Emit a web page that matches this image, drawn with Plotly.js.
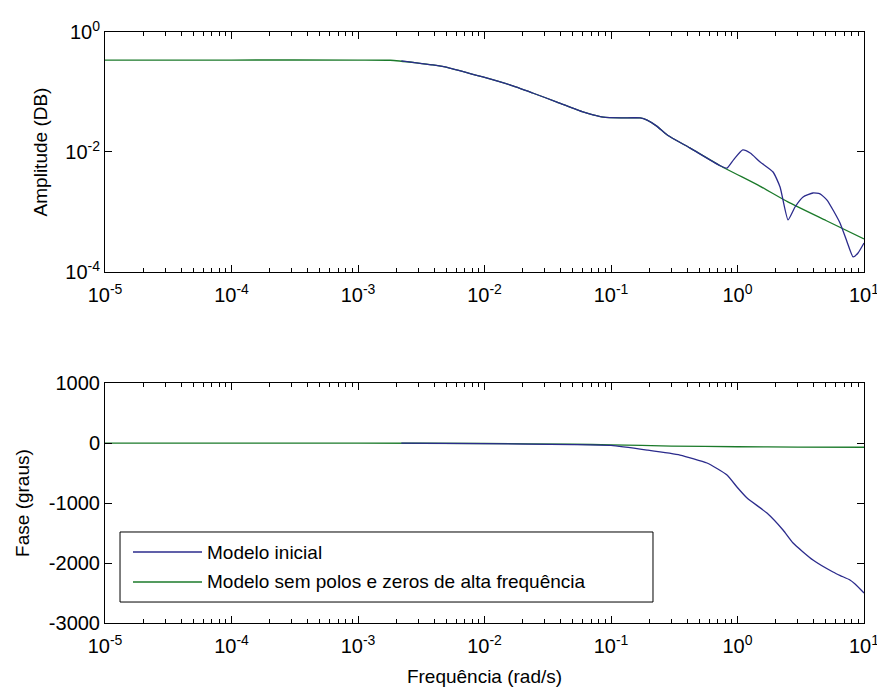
<!DOCTYPE html>
<html>
<head>
<meta charset="utf-8">
<script src="https://cdn.plot.ly/plotly-3.0.1.min.js"></script>
<style>
  html, body { margin: 0; padding: 0; background: #ffffff; }
  #grafico { width: 877px; height: 691px; }
</style>
</head>
<body>
<div id="grafico"></div>
<script>
// Diagrama de Bode: modelo inicial vs. modelo sem polos e zeros de alta frequência

const nomeInicial = 'Modelo inicial';
const nomeReduzido = 'Modelo sem polos e zeros de alta frequência';

// Amplitude do modelo reduzido
const freqAmpReduzido = [1e-5, 1e-4, 1e-3, 1.8e-3, 2.9e-3, 3.9e-3, 5.3e-3, 9.7e-3, 0.0159, 0.024, 0.0374, 0.06, 0.0721, 0.087, 0.12, 0.17, 0.193, 0.23, 0.28, 0.42, 0.73, 1.5, 2.5, 5, 10];
const ampReduzido     = [0.341, 0.341, 0.341, 0.338, 0.305, 0.282, 0.251, 0.178, 0.131, 0.0962, 0.068, 0.0464, 0.0414, 0.038, 0.037, 0.037, 0.034, 0.027, 0.019, 0.0117, 0.0059, 0.0027, 0.00147, 7.2e-4, 3.55e-4];

// Amplitude do modelo inicial
const freqAmpInicial = [2.2e-3, 2.9e-3, 3.9e-3, 5.3e-3, 9.7e-3, 0.0159, 0.024, 0.0374, 0.06, 0.0721, 0.087, 0.12, 0.17, 0.193, 0.23, 0.28, 0.42, 0.73, 0.826, 0.93, 1.10, 1.26, 1.51, 1.91, 2.17, 2.51, 2.85, 3.30, 3.95, 4.49, 5.1, 6.46, 7.35, 8.2, 8.97, 10];
const ampInicial     = [0.33, 0.305, 0.282, 0.251, 0.178, 0.131, 0.0962, 0.068, 0.0464, 0.0414, 0.038, 0.037, 0.037, 0.034, 0.027, 0.019, 0.0117, 0.0059, 0.0054, 0.0074, 0.0108, 0.0096, 0.0068, 0.00464, 0.00261, 7.4e-4, 1.21e-3, 1.78e-3, 2.07e-3, 2.0e-3, 1.58e-3, 6.56e-4, 3.16e-4, 1.78e-4, 2.07e-4, 3.04e-4];

// Fase do modelo reduzido (graus)
const freqFaseReduzido = [1e-5, 1e-4, 1e-3, 0.01, 0.05, 0.1, 0.3, 1, 3, 10];
const faseReduzido     = [0, 0, 0, -8, -20, -30, -50, -62, -68, -70];

// Fase do modelo inicial (graus)
const freqFaseInicial = [2.2e-3, 0.01, 0.05, 0.1, 0.193, 0.351, 0.574, 0.826, 0.99, 1.19, 1.71, 2.29, 2.75, 3.95, 5.69, 6.5, 7.74, 8.5, 10];
const faseInicial     = [0, -10, -25, -40, -117, -200, -333, -533, -733, -917, -1167, -1450, -1667, -1950, -2150, -2210, -2283, -2350, -2500];

// Rótulos dos eixos
const decadasX = [1e-5, 1e-4, 1e-3, 1e-2, 1e-1, 1e0, 1e1];
const rotulosX = ['10<sup>-5</sup>', '10<sup>-4</sup>', '10<sup>-3</sup>', '10<sup>-2</sup>', '10<sup>-1</sup>', '10<sup>0</sup>', '10<sup>1</sup>'];
const decadasAmp = [1e-4, 1e-2, 1e0];
const rotulosAmp = ['10<sup>-4</sup>', '10<sup>-2</sup>', '10<sup>0</sup>'];
const ticksFase = [-3000, -2000, -1000, 0, 1000];
const rotulosFase = ['-3000', '-2000', '-1000', '0', '1000'];

const corInicial = '#2b2b8c';
const corReduzido = '#1b7a2a';

// subdivisões de cada década (2..9)
const menoresX = [];
for (let e = -5; e < 1; e++) {
  for (let m = 2; m <= 9; m++) menoresX.push(m * Math.pow(10, e));
}

const familia = 'Liberation Sans, Arial, Helvetica, sans-serif';
const fonteTicks = { family: familia, size: 20, color: '#000000' };
const fonteTitulo = { family: familia, size: 19, color: '#000000' };

function eixoBase(extra) {
  return Object.assign({
    showline: true, linecolor: '#000000', linewidth: 1, mirror: 'ticks',
    ticks: 'inside', ticklen: 7, tickwidth: 1, tickcolor: '#000000',
    showgrid: false, zeroline: false, automargin: false,
    tickfont: fonteTicks
  }, extra);
}

const linha = (cor) => ({ color: cor, width: 1.3, shape: 'spline', smoothing: 0.5 });

const tracos = [
  { x: freqAmpReduzido, y: ampReduzido, xaxis: 'x', yaxis: 'y', mode: 'lines', name: nomeReduzido, line: linha(corReduzido), hoverinfo: 'skip' },
  { x: freqAmpInicial, y: ampInicial, xaxis: 'x', yaxis: 'y', mode: 'lines', name: nomeInicial, line: linha(corInicial), hoverinfo: 'skip' },
  { x: freqFaseReduzido, y: faseReduzido, xaxis: 'x2', yaxis: 'y2', mode: 'lines', name: nomeReduzido, line: linha(corReduzido), hoverinfo: 'skip' },
  { x: freqFaseInicial, y: faseInicial, xaxis: 'x2', yaxis: 'y2', mode: 'lines', name: nomeInicial, line: linha(corInicial), hoverinfo: 'skip' }
];

// legenda desenhada no gráfico de fase
const leg = { x0: 0.0198, x1: 0.722, y0: 0.0355, y1: 0.154, linhaX0: 0.0369, linhaX1: 0.1278, textoX: 0.1318, linha1: 0.1201, linha2: 0.0694 };

const layout = {
  width: 877, height: 691,
  margin: { l: 105, r: 13, t: 32, b: 68 },
  paper_bgcolor: '#ffffff', plot_bgcolor: '#ffffff',
  font: fonteTicks,
  showlegend: false,
  xaxis: eixoBase({
    type: 'log', domain: [0, 1], range: [-5, 1], anchor: 'y',
    tickmode: 'array', tickvals: decadasX, ticktext: rotulosX, ticklabelstandoff: 5, ticklabeloverflow: 'allow',
    minor: { ticks: 'inside', ticklen: 4, tickcolor: '#000000', tickmode: 'array', tickvals: menoresX, showgrid: false }
  }),
  yaxis: eixoBase({
    type: 'log', domain: [0.594, 1], range: [-4, 0], anchor: 'x',
    tickmode: 'array', tickvals: decadasAmp, ticktext: rotulosAmp,
    title: { text: 'Amplitude (DB)', font: fonteTitulo, standoff: 12 }
  }),
  xaxis2: eixoBase({
    type: 'log', domain: [0, 1], range: [-5, 1], anchor: 'y2',
    tickmode: 'array', tickvals: decadasX, ticktext: rotulosX, ticklabelstandoff: 5, ticklabeloverflow: 'allow',
    minor: { ticks: 'inside', ticklen: 4, tickcolor: '#000000', tickmode: 'array', tickvals: menoresX, showgrid: false },
    title: { text: 'Frequência (rad/s)', font: fonteTitulo, standoff: 13 }
  }),
  yaxis2: eixoBase({
    domain: [0, 0.406], range: [-3000, 1000], anchor: 'x2',
    tickmode: 'array', tickvals: ticksFase, ticktext: rotulosFase,
    title: { text: 'Fase (graus)', font: fonteTitulo, standoff: 14 }
  }),
  shapes: [
    { type: 'rect', xref: 'paper', yref: 'paper', x0: leg.x0, x1: leg.x1, y0: leg.y0, y1: leg.y1,
      line: { color: '#000000', width: 1 }, fillcolor: '#ffffff', layer: 'above' },
    { type: 'line', xref: 'paper', yref: 'paper', x0: leg.linhaX0, x1: leg.linhaX1, y0: leg.linha1, y1: leg.linha1,
      line: { color: corInicial, width: 1.3 }, layer: 'above' },
    { type: 'line', xref: 'paper', yref: 'paper', x0: leg.linhaX0, x1: leg.linhaX1, y0: leg.linha2, y1: leg.linha2,
      line: { color: corReduzido, width: 1.3 }, layer: 'above' }
  ],
  annotations: [
    { xref: 'paper', yref: 'paper', x: leg.textoX, y: leg.linha1, xanchor: 'left', yanchor: 'middle',
      text: nomeInicial, showarrow: false, font: fonteTitulo },
    { xref: 'paper', yref: 'paper', x: leg.textoX, y: leg.linha2, xanchor: 'left', yanchor: 'middle',
      text: nomeReduzido, showarrow: false, font: fonteTitulo }
  ]
};

Plotly.newPlot('grafico', tracos, layout, { staticPlot: true, displayModeBar: false });
</script>
</body>
</html>
